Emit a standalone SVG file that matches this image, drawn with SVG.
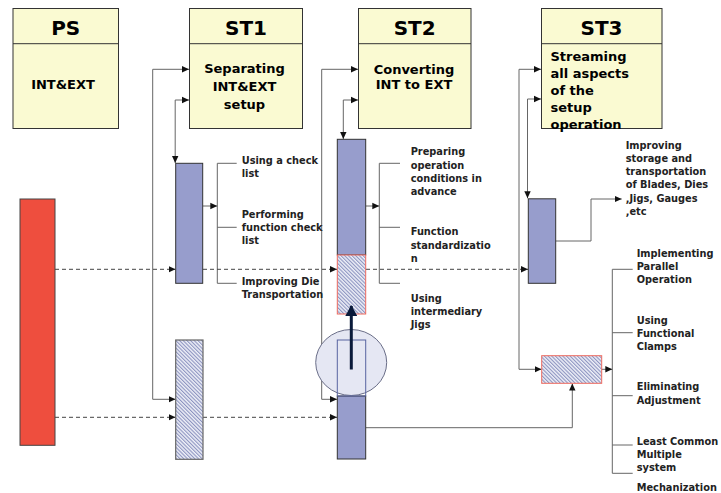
<svg xmlns="http://www.w3.org/2000/svg" width="721" height="493" viewBox="0 0 721 493">
<style>
.hdr{fill:#fafad2;stroke:#333;stroke-width:1}
.t{font-family:"DejaVu Sans",Verdana,sans-serif;font-weight:bold;fill:#000}
.big{font-size:20px}
.mid{font-size:13px}
.sm{font-size:9.8px;fill:#222}
.blue{fill:#979dcc;stroke:#333;stroke-width:1}
.red{fill:#ee4e3e;stroke:#444;stroke-width:1}
.hatchR{fill:url(#hatch);stroke:#ee6a5e;stroke-width:1}
.hatchG{fill:url(#hatch);stroke:#666;stroke-width:1.2}
.ln{fill:none;stroke:#666;stroke-width:1}
.dash{fill:none;stroke:#444;stroke-width:1;stroke-dasharray:4 3}
</style>
<defs>
<marker id="arr" markerUnits="userSpaceOnUse" markerWidth="8" markerHeight="8" refX="7" refY="4" orient="auto-start-reverse">
<path d="M0,0.8 L7,4 L0,7.2 Z" fill="#111"/>
</marker>
<marker id="bigarr" markerUnits="userSpaceOnUse" markerWidth="12" markerHeight="12" refX="10" refY="6" orient="auto">
<path d="M0,0 L11,6 L0,12 Z" fill="#0a1a3a"/>
</marker>
<pattern id="hatch" patternUnits="userSpaceOnUse" width="2.6" height="2.6" patternTransform="rotate(-45)">
<rect width="2.6" height="2.6" fill="#eef0f8"/>
<rect width="1.1" height="2.6" fill="#8c93c0"/>
</pattern>
</defs>

<g id="connectors">
<path class="ln" d="M189,69.3 H152.7 V399.3 H175.5" marker-start="url(#arr)" marker-end="url(#arr)"/>
<path class="ln" d="M189,100 H175.2 V163" marker-start="url(#arr)" marker-end="url(#arr)"/>
<path class="ln" d="M203,206 H217.3" marker-end="url(#arr)"/>
<path class="ln" d="M236.7,163.3 H217.3 V283.3 H236.7 M217.3,227.3 H236.7"/>
<path class="dash" d="M55,269.3 H175.5" marker-end="url(#arr)"/>
<path class="dash" d="M203,269.3 H337" marker-end="url(#arr)"/>
<path class="dash" d="M366,269.3 H528" marker-end="url(#arr)"/>
<path class="dash" d="M55,417.3 H175.5" marker-end="url(#arr)"/>
<path class="dash" d="M203,417.3 H337" marker-end="url(#arr)"/>
<path class="ln" d="M358,69.3 H321.7 V399.3 H337" marker-start="url(#arr)" marker-end="url(#arr)"/>
<path class="ln" d="M358,100 H343.3 V139" marker-start="url(#arr)" marker-end="url(#arr)"/>
<path class="ln" d="M366,206 H379.3" marker-end="url(#arr)"/>
<path class="ln" d="M400,163.3 H379.3 V283.3 H400 M379.3,227.3 H400"/>
<path class="ln" d="M366,427.7 H572.3 V383.5" marker-end="url(#arr)"/>
<path class="ln" d="M541,69.3 H519 V369.3 H541.5" marker-start="url(#arr)" marker-end="url(#arr)"/>
<path class="ln" d="M541,99 H527.5 V198.3" marker-start="url(#arr)" marker-end="url(#arr)"/>
<path class="ln" d="M556,241 H591 V199 H621.7" marker-end="url(#arr)"/>
<path class="ln" d="M602,369.3 H612.3" marker-end="url(#arr)"/>
<path class="ln" d="M632.7,269.3 H612.3 V473.3 H632.7 M612.3,332.7 H632.7 M612.3,395.7 H632.7 M612.3,445 H632.7"/>
</g>

<g id="PS">
<rect class="hdr" x="13" y="8.5" width="105.5" height="120"/>
<line x1="13" y1="43.7" x2="118.5" y2="43.7" stroke="#333"/>
<text class="t big" x="65.7" y="35" text-anchor="middle">PS</text>
<text class="t mid" x="63" y="89" text-anchor="middle">INT&amp;EXT</text>
</g>

<g id="ST1">
<rect class="hdr" x="189.5" y="8.5" width="113" height="120"/>
<line x1="189.5" y1="43.7" x2="302.5" y2="43.7" stroke="#333"/>
<text class="t big" x="246" y="35" text-anchor="middle">ST1</text>
<text class="t mid" text-anchor="middle"><tspan x="244.5" y="73">Separating</tspan><tspan x="244.5" y="91">INT&amp;EXT</tspan><tspan x="244.5" y="108.5">setup</tspan></text>
</g>

<g id="ST2">
<rect class="hdr" x="358.5" y="8.5" width="112.5" height="120"/>
<line x1="358.5" y1="43.7" x2="471" y2="43.7" stroke="#333"/>
<text class="t big" x="414.7" y="35" text-anchor="middle">ST2</text>
<text class="t mid" text-anchor="middle"><tspan x="414" y="74">Converting</tspan><tspan x="414" y="89">INT to EXT</tspan></text>
</g>

<g id="ST3">
<rect class="hdr" x="541.5" y="8.5" width="120.5" height="120"/>
<line x1="541.5" y1="43.7" x2="662" y2="43.7" stroke="#333"/>
<text class="t big" x="601.5" y="35" text-anchor="middle">ST3</text>
<text class="t mid"><tspan x="550.5" y="60.5">Streaming</tspan><tspan x="550.5" y="77.5">all aspects</tspan><tspan x="550.5" y="94.5">of the</tspan><tspan x="550.5" y="111.5">setup</tspan><tspan x="550.5" y="128.5">operation</tspan></text>
</g>

<g id="red-bar">
<rect class="red" x="20" y="199" width="35" height="246.3"/>
</g>

<g id="ST1-active">
<rect class="blue" x="175.7" y="163.3" width="27" height="120"/>
</g>
<g id="ST1-hatched">
<rect class="hatchG" x="175.7" y="340" width="27.3" height="119.3"/>
</g>
<g id="ST1-labels">
<text class="t sm"><tspan x="241.7" y="164.3">Using a check</tspan><tspan x="241.7" y="177.3">list</tspan></text>
<text class="t sm"><tspan x="241.7" y="217.5">Performing</tspan><tspan x="241.7" y="230.8">function check</tspan><tspan x="241.7" y="244.1">list</tspan></text>
<text class="t sm"><tspan x="241.7" y="284.5">Improving Die</tspan><tspan x="241.7" y="297.8">Transportation</tspan></text>
</g>

<g id="ST2-active">
<rect class="blue" x="337.3" y="139.3" width="28.4" height="115.7"/>
<rect class="hatchR" x="337.3" y="255" width="28.4" height="59"/>
</g>
<g id="ST2-lower">
<rect class="blue" x="337.3" y="396" width="28.4" height="63"/>
</g>
<g id="ST2-circle">
<ellipse cx="351.2" cy="362.5" rx="35.5" ry="33" fill="#e5e7f3" stroke="#6a6e88" stroke-width="1"/>
<rect x="337.3" y="340" width="28.4" height="56" fill="none" stroke="#5864a0" stroke-width="1"/>
<line x1="351.3" y1="369.5" x2="351.3" y2="306" stroke="#0a1a3a" stroke-width="3" marker-end="url(#bigarr)"/>
</g>
<g id="ST2-labels">
<text class="t sm"><tspan x="410.7" y="155.2">Preparing</tspan><tspan x="410.7" y="168.5">operation</tspan><tspan x="410.7" y="181.8">conditions in</tspan><tspan x="410.7" y="195.1">advance</tspan></text>
<text class="t sm"><tspan x="410.7" y="235.2">Function</tspan><tspan x="410.7" y="248.5">standardizatio</tspan><tspan x="410.7" y="261.8">n</tspan></text>
<text class="t sm"><tspan x="410.7" y="301.8">Using</tspan><tspan x="410.7" y="315.1">intermediary</tspan><tspan x="410.7" y="328.4">Jigs</tspan></text>
</g>

<g id="ST3-active">
<rect class="blue" x="528.3" y="198.8" width="27.4" height="84.5"/>
</g>
<g id="ST3-hatched">
<rect class="hatchR" x="541.7" y="355.7" width="60" height="27.6"/>
</g>
<g id="ST3-labels">
<text class="t sm"><tspan x="625.7" y="148.5">Improving</tspan><tspan x="625.7" y="161.8">storage and</tspan><tspan x="625.7" y="175.1">transportation</tspan><tspan x="625.7" y="188.4">of Blades, Dies</tspan><tspan x="625.7" y="201.7">,Jigs, Gauges</tspan><tspan x="625.7" y="215">,etc</tspan></text>
<text class="t sm"><tspan x="636.7" y="256.8">Implementing</tspan><tspan x="636.7" y="270.1">Parallel</tspan><tspan x="636.7" y="283.4">Operation</tspan></text>
<text class="t sm"><tspan x="636.7" y="323.5">Using</tspan><tspan x="636.7" y="336.8">Functional</tspan><tspan x="636.7" y="350.1">Clamps</tspan></text>
<text class="t sm"><tspan x="636.7" y="390.2">Eliminating</tspan><tspan x="636.7" y="403.5">Adjustment</tspan></text>
<text class="t sm"><tspan x="636.7" y="444.5">Least Common</tspan><tspan x="636.7" y="457.8">Multiple</tspan><tspan x="636.7" y="471.1">system</tspan></text>
<text class="t sm"><tspan x="636.7" y="490.8">Mechanization</tspan></text>
</g>
</svg>
